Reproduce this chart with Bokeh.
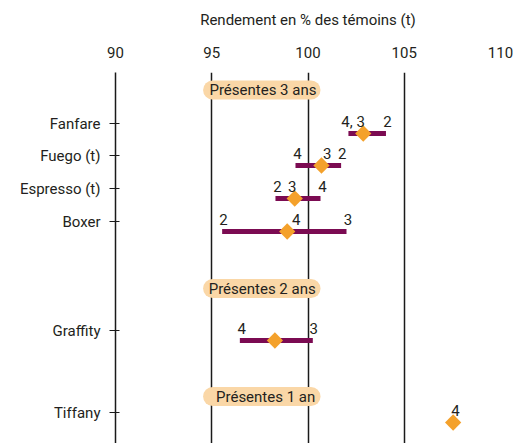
import math
from bokeh.plotting import figure
from bokeh.models import Range1d, FixedTicker, ColumnDataSource, BoxAnnotation, Label
from bokeh.core.properties import value
from bokeh.embed import file_html
from bokeh.resources import INLINE

# ---- data ----
varieties = ["Fanfare", "Fuego (t)", "Espresso (t)", "Boxer", "Graffity", "Tiffany"]
mean_yield = [102.87, 100.70, 99.31, 98.92, 98.28, 107.54]
min_yield = [102.10, 99.35, 98.31, 95.54, 96.46, float("nan")]
max_yield = [104.05, 101.72, 100.65, 102.00, 100.25, float("nan")]

year_label_variety = ["Fanfare", "Fanfare",
                      "Fuego (t)", "Fuego (t)", "Fuego (t)",
                      "Espresso (t)", "Espresso (t)", "Espresso (t)",
                      "Boxer", "Boxer", "Boxer",
                      "Graffity", "Graffity",
                      "Tiffany"]
year_label_text = ["4, 3", "2", "4", "3", "2", "2", "3", "4", "2", "4", "3", "4", "3", "4"]
year_label_value = [102.34, 104.13, 99.45, 101.00, 101.78, 98.42, 99.18, 100.75,
                    95.61, 99.39, 102.07, 96.56, 100.30, 107.66]

groups = ["Présentes 3 ans", "Présentes 2 ans", "Présentes 1 an"]
x_ticks = [90, 95, 100, 105, 110]
x_title = "Rendement en % des témoins (t)"

# ---- layout (positions, in pixel-like units down from first row) ----
row_y = [0, 32, 65, 98, 207, 289]
bar_offset = 10
label_lift = 12
group_y = [-33.5, 165, 273]
group_x_text = [97.66, 97.62, 97.80]
pill_left, pill_right, pill_half = 94.55, 100.65, 9.5

FONT = "Roboto"
FS = "15px"
TXT = "#231f20"
BAR = "#7b0b52"
ORANGE = "#f4a12b"
PILL = "#fad7a7"
GREEN = "#8cbe3f"

ypos = dict(zip(varieties, row_y))

p = figure(width=513, height=443, output_backend="svg", toolbar_location=None,
           x_axis_location="above",
           x_range=Range1d(90, 110), y_range=Range1d(320, -51),
           min_border_left=115, min_border_right=13, min_border_top=72, min_border_bottom=0)
p.outline_line_color = None

# x axis (top)
p.xaxis.ticker = FixedTicker(ticks=x_ticks)
p.xaxis.axis_line_color = None
p.xaxis.major_tick_line_color = None
p.xaxis.minor_tick_line_color = None
p.xaxis.major_label_text_font = FONT
p.xaxis.major_label_text_font_size = FS
p.xaxis.major_label_text_color = TXT
p.xaxis.major_label_standoff = 9
p.xaxis.axis_label = x_title
p.xaxis.axis_label_text_font = FONT
p.xaxis.axis_label_text_font_size = FS
p.xaxis.axis_label_text_font_style = "normal"
p.xaxis.axis_label_text_color = TXT
p.xaxis.axis_label_standoff = 15

p.xgrid.ticker = FixedTicker(ticks=x_ticks)
p.xgrid.grid_line_color = "#1a1a1a"
p.xgrid.grid_line_width = 1.5
p.ygrid.visible = False

# y axis (left)
p.yaxis.ticker = FixedTicker(ticks=row_y)
p.yaxis.major_label_overrides = {y: n for y, n in zip(row_y, varieties)}
p.yaxis.axis_line_color = "#1a1a1a"
p.yaxis.axis_line_width = 1.5
p.yaxis.major_tick_line_color = "#1a1a1a"
p.yaxis.major_tick_line_width = 1.2
p.yaxis.major_tick_in = 4
p.yaxis.major_tick_out = 6
p.yaxis.minor_tick_line_color = None
p.yaxis.major_label_standoff = 9
p.yaxis.major_label_text_font = FONT
p.yaxis.major_label_text_font_size = FS
p.yaxis.major_label_text_color = TXT

# group pills
for g, gy, gx in zip(groups, group_y, group_x_text):
    p.add_layout(BoxAnnotation(left=pill_left, right=pill_right,
                               top=gy - pill_half, bottom=gy + pill_half,
                               fill_color=PILL, fill_alpha=1, line_color=None,
                               border_radius=10))
    p.add_layout(Label(x=gx, y=gy, text=g, text_align="center", text_baseline="middle",
                       text_font=FONT, text_font_size=FS, text_color=TXT))

# bars
bar_src = ColumnDataSource(dict(
    y=[ypos[v] + bar_offset for v in varieties],
    left=min_yield, right=max_yield, mean=mean_yield))
p.hbar(y="y", left="left", right="right", height=5, source=bar_src,
       fill_color=BAR, line_color=None)
p.scatter(x="mean", y="y", source=bar_src, marker="square", angle=math.pi / 4,
          size=11.5, fill_color=ORANGE, line_color=None)

# year labels
lab_src = ColumnDataSource(dict(
    x=year_label_value,
    y=[ypos[v] + bar_offset - label_lift for v in year_label_variety],
    t=year_label_text))
p.text(x="x", y="y", text="t", source=lab_src, text_align="center",
       text_baseline="alphabetic",
       text_font=value(FONT), text_font_size=FS, text_color=TXT)

# green side bar
p.add_layout(BoxAnnotation(left=6.7, right=17.3, top=11.7, bottom=443,
                           left_units="canvas", right_units="canvas",
                           top_units="canvas", bottom_units="canvas",
                           fill_color=GREEN, fill_alpha=1, line_color=None))

open("out.html", "w").write(file_html(p, INLINE))
